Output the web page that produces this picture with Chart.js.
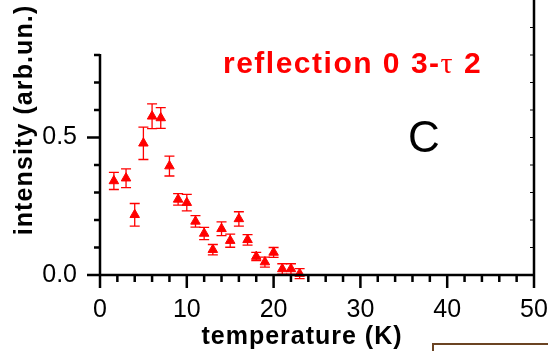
<!DOCTYPE html>
<html>
<head>
<meta charset="utf-8">
<script src="https://cdn.jsdelivr.net/npm/chart.js@4/dist/chart.umd.min.js"></script>
<style>
  html, body { margin: 0; padding: 0; background: #fff; }
  canvas { display: block; }
</style>
</head>
<body>
<canvas id="tempChart" width="548" height="351"></canvas>
<script>
// measured points: temperature (K), intensity (arb.un.) and its error
var temperature = [1.6, 3, 4, 5, 6, 7, 8, 9, 10, 11, 12, 13, 14, 15, 16, 17, 18, 19, 20, 21, 22, 23];
var intensity = [0.342, 0.352, 0.219, 0.479, 0.577, 0.571, 0.396, 0.275, 0.263, 0.195, 0.151, 0.092,
                 0.168, 0.125, 0.204, 0.128, 0.067, 0.047, 0.082, 0.022, 0.022, 0.005];
var intensityErr = [0.031, 0.034, 0.041, 0.059, 0.045, 0.038, 0.036, 0.021, 0.030, 0.021, 0.022, 0.019,
                    0.025, 0.024, 0.026, 0.019, 0.015, 0.018, 0.018, 0.019, 0.019, 0.018];

// labelled ticks
var xMajor = [0, 10, 20, 30, 40, 50];
var yMajor = [0, 0.5];
var yMajorLabels = ['0.0', '0.5'];

var FONT = "'Liberation Sans', Arial, sans-serif";

function isMajor(list, v){
	return list.some(function(m){ return Math.abs(m - v) < 1e-6; });
}

function drawSpaced(ctx, text, x, y, spacing){
	ctx.letterSpacing = spacing + 'px';
	ctx.fillText(text, x, y);
	var w = ctx.measureText(text).width;
	ctx.letterSpacing = '0px';
	return w;
}

function noOverflow(scale){
	scale.paddingTop = 0;
	scale.paddingBottom = 0;
	scale.paddingLeft = 0;
	scale.paddingRight = 0;
}

var errorBars = {
	id: 'errorBars',
	beforeDatasetsDraw: function(chart){
		var ctx = chart.ctx, xs = chart.scales.x, ys = chart.scales.y;
		ctx.save();
		ctx.strokeStyle = 'red';
		ctx.lineWidth = 1.3;
		temperature.forEach(function(t, i){
			var px = xs.getPixelForValue(t);
			var top = ys.getPixelForValue(intensity[i] + intensityErr[i]);
			var bot = ys.getPixelForValue(intensity[i] - intensityErr[i]);
			ctx.beginPath();
			ctx.moveTo(px, top); ctx.lineTo(px, bot);
			ctx.moveTo(px - 5, top); ctx.lineTo(px + 5, top);
			ctx.moveTo(px - 5, bot); ctx.lineTo(px + 5, bot);
			ctx.stroke();
		});
		ctx.restore();
	}
};

// axis lines and tick marks, drawn Origin-style (outward ticks, open top)
var originAxes = {
	id: 'originAxes',
	afterDatasetsDraw: function(chart){
		var ctx = chart.ctx, xs = chart.scales.x, ys = chart.scales.y, area = chart.chartArea;
		ctx.save();
		ctx.strokeStyle = '#000';
		ctx.lineWidth = 2.5;
		ctx.lineCap = 'butt';
		ctx.beginPath();
		// bottom axis
		ctx.moveTo(area.left, area.bottom); ctx.lineTo(area.right, area.bottom);
		// left axis up to 0.8
		ctx.moveTo(area.left, area.bottom); ctx.lineTo(area.left, ys.getPixelForValue(0.8) - 1);
		// right axis full height
		ctx.moveTo(area.right, area.bottom); ctx.lineTo(area.right, area.top);
		xs.ticks.forEach(function(t){
			var px = xs.getPixelForValue(t.value);
			var len = isMajor(xMajor, t.value) ? 13 : 7;
			ctx.moveTo(px, area.bottom); ctx.lineTo(px, area.bottom + len);
		});
		ys.ticks.forEach(function(t){
			if (t.value > 0.8 + 1e-6) return;
			var py = ys.getPixelForValue(t.value);
			var len = isMajor(yMajor, t.value) ? 13 : 6;
			ctx.moveTo(area.left, py); ctx.lineTo(area.left - len, py);
		});
		ctx.stroke();
		// small inner ticks on the right axis
		ctx.lineWidth = 1;
		ctx.beginPath();
		ys.ticks.forEach(function(t){
			if (t.value < 1e-6 || t.value > 1 - 1e-6) return;
			var py = ys.getPixelForValue(t.value);
			ctx.moveTo(area.right, py); ctx.lineTo(area.right - 4, py);
		});
		ctx.stroke();
		ctx.restore();
	},
	afterDraw: function(chart){
		var ctx = chart.ctx;
		ctx.save();
		ctx.fillStyle = '#000';
		ctx.textBaseline = 'alphabetic';

		// x title
		ctx.font = 'bold 25px ' + FONT;
		ctx.textAlign = 'center';
		ctx.letterSpacing = '1px';
		ctx.fillText('temperature (K)', 302, 344);

		// y title
		ctx.translate(32, 120);
		ctx.rotate(-Math.PI / 2);
		ctx.letterSpacing = '1.1px';
		ctx.fillText('intensity (arb.un.)', 0, 0);
		ctx.setTransform(1, 0, 0, 1, 0, 0);
		ctx.letterSpacing = '0px';

		// reflection label
		ctx.textAlign = 'left';
		ctx.fillStyle = 'red';
		var x = 223, y = 73;
		ctx.font = 'bold 30px ' + FONT;
		x += drawSpaced(ctx, 'reflection 0 3-', x, y, 1.5);
		ctx.font = '30px "Liberation Serif", serif';
		x += drawSpaced(ctx, '\u03c4', x, y, 1.5);
		ctx.font = 'bold 30px ' + FONT;
		drawSpaced(ctx, ' 2', x, y, 1.5);

		// panel letter
		ctx.fillStyle = '#000';
		ctx.font = '44px ' + FONT;
		ctx.fillText('C', 408, 152);

		// edge of the neighbouring box
		ctx.strokeStyle = '#6b4423';
		ctx.lineWidth = 2;
		ctx.strokeRect(433, 344, 200, 50);
		ctx.restore();
	}
};

new Chart(document.getElementById('tempChart'), {
	type: 'scatter',
	data: {
		datasets: [{
			label: 'intensity',
			data: temperature.map(function(t, i){ return {x: t, y: intensity[i]}; }),
			pointStyle: 'triangle',
			pointRadius: 5.5,
			pointHoverRadius: 5.5,
			backgroundColor: 'red',
			borderColor: 'red',
			borderWidth: 1,
			clip: false
		}]
	},
	plugins: [errorBars, originAxes],
	options: {
		responsive: false,
		animation: false,
		devicePixelRatio: 1,
		layout: { autoPadding: false, padding: { left: 0, top: 0, right: 14, bottom: 0 } },
		plugins: { legend: { display: false }, tooltip: { enabled: false } },
		scales: {
			x: {
				type: 'linear',
				min: 0, max: 50,
				grid: { display: false, drawTicks: false },
				border: { display: false },
				ticks: {
					stepSize: 2,
					autoSkip: false,
					maxRotation: 0,
					padding: 20,
					color: '#000',
					font: { family: FONT, size: 25 },
					callback: function(v){ return isMajor(xMajor, v) ? String(Math.round(v)) : ''; }
				},
				afterFit: function(scale){ scale.height = 76; noOverflow(scale); }
			},
			y: {
				type: 'linear',
				min: 0, max: 1.0,
				grid: { display: false, drawTicks: false },
				border: { display: false },
				ticks: {
					stepSize: 0.1,
					autoSkip: false,
					padding: 23,
					color: '#000',
					font: { family: FONT, size: 25 },
					callback: function(v){
						for (var i = 0; i < yMajor.length; i++) {
							if (Math.abs(yMajor[i] - v) < 1e-6) return yMajorLabels[i];
						}
						return '';
					}
				},
				afterFit: function(scale){ scale.width = 100; noOverflow(scale); }
			}
		}
	}
});
</script>
</body>
</html>
